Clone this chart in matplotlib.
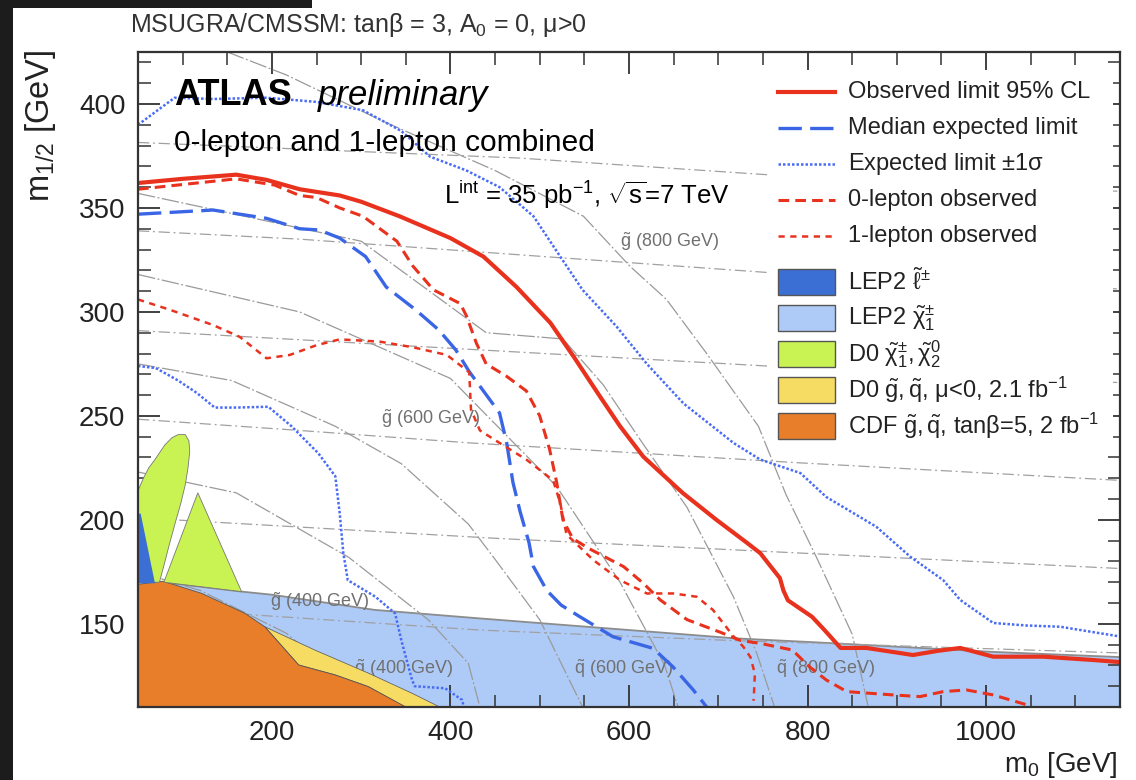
import matplotlib
matplotlib.use("Agg")
import matplotlib.pyplot as plt
from matplotlib.patches import Polygon, Rectangle
from matplotlib.lines import Line2D
from matplotlib.ticker import MultipleLocator

plt.rcParams['font.family'] = ['Liberation Sans', 'DejaVu Sans']
plt.rcParams['mathtext.fontset'] = 'custom'
plt.rcParams['mathtext.rm'] = 'Liberation Sans'
plt.rcParams['mathtext.it'] = 'Liberation Sans'
plt.rcParams['mathtext.bf'] = 'Liberation Sans:bold'

# ---- limit curves (m0, m1/2) in GeV ----
obs_x = [50, 100, 160, 194, 231, 276, 300, 343, 400, 437, 474, 512, 538, 568, 590, 616,
         660, 698, 732, 747, 769, 773, 778, 805, 819, 837, 866, 918, 946, 971, 1008,
         1064, 1120, 1150]
obs_y = [362, 364, 366, 363.5, 359, 356, 353, 346, 335.5, 326.6, 312, 294.7, 278.5, 259,
         245, 230.4, 213, 200, 189, 184, 172, 166, 161.3, 153.4, 147, 138.4, 138.4, 135,
         137, 138.4, 134.2, 134.2, 132.6, 131.6]

med_x = [50, 134, 194, 231, 253, 276, 305, 328, 361, 387, 406, 421, 455, 463, 470, 478,
         488, 493, 508, 524, 545, 582, 627, 649, 672, 687]
med_y = [347, 349, 345, 340, 339.4, 335.5, 326.6, 312, 301, 291.3, 281.7, 271.3, 251.4,
         237, 218, 204, 189, 177.5, 166, 159, 153.4, 143.8, 138.2, 129.4, 118.2, 110]

up1s_x = [50, 91, 134, 194, 250, 302, 345, 377, 418, 455, 493, 523, 548, 586, 620, 661,
          717, 747, 792, 821, 877, 915, 952, 971, 1008, 1045, 1083, 1150]
up1s_y = [390, 403, 402.4, 403, 401, 397, 387, 374.7, 368, 360, 346, 326.6, 310.6, 293,
          275, 256, 237, 229, 222.5, 211, 196.7, 182.3, 171, 161.5, 150.4, 149.2, 148.6,
          143.9]

lo1s_x = [50, 70, 95, 116, 136, 160, 196, 222, 252, 271, 276, 280, 285, 316, 338, 345,
          357, 360, 394, 413, 415]
lo1s_y = [274, 273, 267, 261, 254, 254, 254.4, 245, 232, 221, 203, 184, 171, 163, 155,
          142, 123, 120, 119, 113.4, 110]

lep0_x = [50, 160, 203, 231, 250, 276, 302, 340, 358, 381, 411, 418, 429, 440, 463, 485,
          500, 511, 519, 526, 537, 556, 594, 616, 635, 665, 702, 725, 747, 783, 802, 821,
          844, 896, 926, 952, 978, 1008, 1046]
lep0_y = [359, 364, 361, 356, 355, 350, 346, 334, 322, 310.6, 304, 298, 285, 275, 269,
          262, 250, 234, 218, 200, 191, 186, 177.5, 169.5, 161.5, 152, 146, 142, 140.6,
          137.4, 129.4, 123, 117.4, 115.8, 115, 117.4, 118.2, 115.8, 111]

lep1_x = [50, 86, 134, 164, 194, 220, 250, 276, 321, 358, 396, 421, 423, 433, 455, 485,
          515, 523, 530, 560, 590, 620, 650, 676, 694, 717, 728, 736, 741, 740, 739.5]
lep1_y = [306, 301, 293.7, 288, 277.7, 279.3, 284, 286.8, 285.7, 283, 279.3, 271, 253,
          243, 237, 229, 219, 208, 193, 180.7, 171, 164.6, 164.6, 163, 156.7, 144, 139,
          134, 126, 116.6, 113]

# ---- previous exclusions ----
lep2_chi_x = [50, 50, 78, 166, 200, 315, 433, 720, 814, 1008, 1150, 1150]
lep2_chi_y = [110, 170, 170, 165.5, 164, 156.7, 152.6, 143, 141, 136.5, 134, 110]

lep2_slep_x = [50, 50, 53, 69]
lep2_slep_y = [169.5, 203, 203, 169.5]

d0_chi_blob_x = [50, 50, 56, 62, 69, 80, 88, 95, 103, 107, 108, 106, 103, 98, 92, 85, 79, 74]
d0_chi_blob_y = [170, 214, 220, 225, 229, 236, 239.5, 241, 241, 238, 233, 225, 217, 208,
                 199, 188, 178, 170]
d0_chi_tri_x = [79, 117, 166]
d0_chi_tri_y = [170, 213, 165.5]

d0_gq_x = [192, 248, 308, 357, 388, 349, 308, 271, 230]
d0_gq_y = [148.6, 137.4, 126.3, 116.6, 110, 110, 119.8, 125.4, 130.2]

cdf_x = [50, 50, 78, 121, 170, 192, 230, 271, 308, 350]
cdf_y = [110, 169, 170.5, 164.7, 155, 148.6, 130.2, 125.4, 119.8, 110]

# ---- iso-mass contours ----
gluino_x = [[50, 433, 713, 1150], [50, 456, 1150], [50, 231, 422, 792, 1150],
            [50, 422, 754, 1150], [50, 231, 754, 1150], [50, 477, 754, 1150]]
gluino_y = [[158, 147, 142, 136], [201, 191, 176.6], [248.4, 243, 237, 227.4, 219],
            [291, 282, 274, 266], [339, 335, 319, 311], [381.5, 374, 366, 358]]

squark_x = [[50, 120, 216, 265, 306],
            [50, 160, 286, 375, 420, 433],
            [50, 155, 271, 345, 420, 450, 500, 548],
            [50, 231, 400, 519, 590, 640, 655],
            [50, 300, 440, 526, 571, 615, 665, 717, 743, 763],
            [150, 216, 323, 450, 549, 601, 642, 687, 745, 776, 810, 850, 868]]
squark_y = [[175, 166, 145.5, 128, 110],
            [223, 213, 182, 152, 131, 110],
            [275, 267, 245, 227, 198, 181, 152, 110],
            [318, 300, 268, 216, 170, 130, 110],
            [357, 334, 290, 287, 265, 237, 206, 163, 136, 110],
            [425, 414, 392, 368, 346, 322, 306, 280, 245, 212, 182, 145, 110]]

fig = plt.figure(figsize=(11.36, 7.8), dpi=100)
ax = fig.add_axes([138 / 1136, 73 / 780, 982 / 1136, 655 / 780])
ax.set_xlim(50, 1150)
ax.set_ylim(110, 425)

c_lightblue = '#aecbf7'
c_darkblue = '#3b6fd4'
c_green = '#c9f253'
c_yellow = '#f7dc63'
c_orange = '#e87d2a'
c_red = '#e8321e'
c_blue = '#3a66e6'
c_dot = '#4a6cf5'

ax.add_patch(Polygon(list(zip(lep2_chi_x, lep2_chi_y)), closed=True, fc=c_lightblue,
                     ec='#8c8c8c', lw=1.3, zorder=1))

for xs, ys in zip(gluino_x, gluino_y):
    ax.plot(xs, ys, color='#a0a0a0', lw=0.9, dashes=(9, 3, 1.5, 3), zorder=2)
for xs, ys in zip(squark_x, squark_y):
    ax.plot(xs, ys, color='#9a9a9a', lw=0.9, dashes=(14, 2, 1.5, 2), zorder=2)

ax.add_patch(Polygon(list(zip(d0_gq_x, d0_gq_y)), closed=True, fc=c_yellow,
                     ec='#666666', lw=0.6, zorder=3))
ax.add_patch(Polygon(list(zip(cdf_x, cdf_y)), closed=True, fc=c_orange,
                     ec='#555555', lw=0.6, zorder=3))
ax.add_patch(Polygon(list(zip(d0_chi_blob_x, d0_chi_blob_y)), closed=True, fc=c_green,
                     ec='#777777', lw=0.6, zorder=3))
ax.add_patch(Polygon(list(zip(d0_chi_tri_x, d0_chi_tri_y)), closed=True, fc=c_green,
                     ec='#777777', lw=0.6, zorder=3))
ax.add_patch(Polygon(list(zip(lep2_slep_x, lep2_slep_y)), closed=True, fc=c_darkblue,
                     ec='none', zorder=3))

ax.plot(up1s_x, up1s_y, color=c_dot, lw=1.8, dashes=(1, 0.8), zorder=4)
ax.plot(lo1s_x, lo1s_y, color=c_dot, lw=1.8, dashes=(1, 0.8), zorder=4)
ax.plot(med_x, med_y, color=c_blue, lw=2.4, dashes=(7, 2.5), zorder=4)
ax.plot(lep1_x, lep1_y, color=c_red, lw=1.8, dashes=(2.5, 2.2), zorder=4)
ax.plot(lep0_x, lep0_y, color=c_red, lw=2.2, dashes=(3.5, 2), zorder=4)
ax.plot(obs_x, obs_y, color=c_red, lw=3.0, zorder=5)

# contour labels
lab_kw = dict(color='#707070', fontsize=13, zorder=2.5)
ax.text(590, 331, r'$\tilde{g}$ (800 GeV)', **lab_kw)
ax.text(322, 246, r'$\tilde{g}$ (600 GeV)', **lab_kw)
ax.text(198, 158, r'$\tilde{g}$ (400 GeV)', **lab_kw)
ax.text(292, 126, r'$\tilde{q}$ (400 GeV)', **lab_kw)
ax.text(538, 126, r'$\tilde{q}$ (600 GeV)', **lab_kw)
ax.text(765, 126, r'$\tilde{q}$ (800 GeV)', **lab_kw)

# text
ax.text(0.037, 0.934, 'ATLAS', transform=ax.transAxes, fontsize=26, fontweight='bold',
        va='center', zorder=6)
ax.text(0.183, 0.934, 'preliminary', transform=ax.transAxes, fontsize=25,
        fontstyle='italic', va='center', zorder=6)
ax.text(0.037, 0.861, '0-lepton and 1-lepton combined', transform=ax.transAxes,
        fontsize=21.5, va='center', zorder=6)
ax.text(0.312, 0.782, r'L$^{\rm int}$ = 35 pb$^{-1}$, $\sqrt{\rm s}$=7 TeV',
        transform=ax.transAxes, fontsize=18.5, va='center', zorder=6)


# legend, placed by hand in pixel positions of the reference
def ax_pt(px, py):
    return (px - 138) / 982, 1 - (py - 52) / 655


bx0, by0 = ax_pt(770, 447)
bx1, by1 = ax_pt(1113, 70)
ax.add_patch(Rectangle((bx0, by0), bx1 - bx0, by1 - by0, transform=ax.transAxes,
                       fc='white', ec='none', zorder=6))

line_styles = [
    dict(color=c_red, lw=3.0),
    dict(color=c_blue, lw=2.4, dashes=(7, 2.5)),
    dict(color=c_dot, lw=1.8, dashes=(1, 0.8)),
    dict(color=c_red, lw=2.2, dashes=(3.5, 2)),
    dict(color=c_red, lw=1.8, dashes=(2.5, 2.2)),
]
line_labels = [
    'Observed limit 95% CL',
    'Median expected limit',
    r'Expected limit $\pm$1$\sigma$',
    '0-lepton observed',
    '1-lepton observed',
]
patch_colors = [c_darkblue, c_lightblue, c_green, c_yellow, c_orange]
patch_labels = [
    r'LEP2 $\tilde{\ell}^{\pm}$',
    r'LEP2 $\tilde{\chi}_1^{\pm}$',
    r'D0 $\tilde{\chi}_1^{\pm}, \tilde{\chi}_2^0$',
    r'D0 $\tilde{g}, \tilde{q}$, $\mu$<0, 2.1 fb$^{-1}$',
    r'CDF $\tilde{g}, \tilde{q}$, tan$\beta$=5, 2 fb$^{-1}$',
]
leg_fs = 17
for i, (st, lab) in enumerate(zip(line_styles, line_labels)):
    py = 92 + 36 * i
    xa, ya = ax_pt(778, py)
    xb, _ = ax_pt(835, py)
    ax.add_line(Line2D([xa, xb], [ya, ya], transform=ax.transAxes, zorder=7, **st))
    xt, _ = ax_pt(848, py)
    ax.text(xt, ya, lab, transform=ax.transAxes, fontsize=leg_fs, va='center',
            color='#222222', zorder=7)
for i, (col, lab) in enumerate(zip(patch_colors, patch_labels)):
    py = 282 + 36 * i
    xa, ya = ax_pt(778, py + 13)
    xb, yb = ax_pt(835, py - 13)
    ax.add_patch(Rectangle((xa, ya), xb - xa, yb - ya, transform=ax.transAxes,
                           fc=col, ec='#555555', lw=1.0, zorder=7))
    xt, yt = ax_pt(848, py)
    ax.text(xt, yt, lab, transform=ax.transAxes, fontsize=leg_fs, va='center',
            color='#222222', zorder=7)

# axes style
ax.xaxis.set_major_locator(MultipleLocator(200))
ax.xaxis.set_minor_locator(MultipleLocator(50))
ax.yaxis.set_major_locator(MultipleLocator(50))
ax.yaxis.set_minor_locator(MultipleLocator(10))
ax.tick_params(which='both', direction='in', top=True, right=True, colors='#333333',
               labelcolor='#222222', labelsize=20)
ax.tick_params(which='major', length=16, width=1.3)
ax.tick_params(which='minor', length=9, width=1.1)
ax.tick_params(axis='x', pad=9)
ax.tick_params(axis='y', pad=9)
for sp in ax.spines.values():
    sp.set_linewidth(1.6)
    sp.set_color('#333333')
    sp.set_zorder(8)

fig.text(130 / 1136, 1 - 25 / 780, r'MSUGRA/CMSSM: tan$\beta$ = 3, A$_0$ = 0, $\mu$>0',
         fontsize=18, color='#333333', va='center', ha='left')
fig.text(40 / 1136, 1 - 50 / 780, r'm$_{1/2}$ [GeV]', rotation=90, fontsize=23.5,
         color='#222222', ha='center', va='top')
fig.text(1118 / 1136, 1 - 750 / 780, r'm$_0$ [GeV]', fontsize=20, color='#222222',
         ha='right', va='top')

# dark frame bits at the screenshot edge
fig.patches.append(Rectangle((0, 0), 13 / 1136, 1, transform=fig.transFigure,
                             fc='#1c1c1c', ec='none', zorder=10))
fig.patches.append(Rectangle((0, 1 - 8 / 780), 312 / 1136, 8 / 780,
                             transform=fig.transFigure, fc='#1c1c1c', ec='none',
                             zorder=10))

fig.savefig('out.png', dpi=100)
